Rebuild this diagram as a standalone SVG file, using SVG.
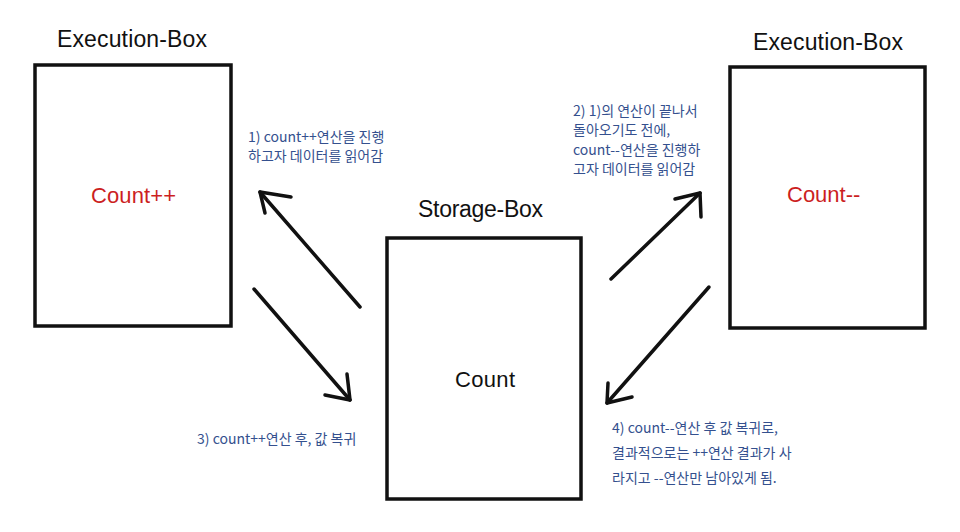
<svg xmlns="http://www.w3.org/2000/svg" width="960" height="532" viewBox="0 0 960 532">
<style>
.box{fill:#fff;stroke:#111;stroke-width:3.5}
.title{font-family:"Liberation Sans","Noto Sans",sans-serif;font-size:23px;fill:#111}
.inner{font-family:"Liberation Sans","Noto Sans",sans-serif;font-size:22px}
.note{font-family:"Noto Sans CJK KR","Noto Sans",sans-serif;font-size:14px;fill:#34508e}
.arr{fill:none;stroke:#111;stroke-width:3.5;stroke-linecap:round;stroke-linejoin:round}
</style>
<rect width="960" height="532" fill="#fff"/>
<g id="exec-left">
<text class="title" x="57" y="47" textLength="150">Execution-Box</text>
<rect class="box" x="35" y="65" width="196" height="261"/>
<text class="inner" x="91" y="203" fill="#cc1f1f" textLength="85">Count++</text>
</g>
<g id="storage">
<text class="title" x="418" y="217" textLength="125">Storage-Box</text>
<rect class="box" x="387" y="238" width="194" height="261"/>
<text class="inner" x="455" y="387" fill="#111" textLength="60">Count</text>
</g>
<g id="exec-right">
<text class="title" x="753" y="50" textLength="150">Execution-Box</text>
<rect class="box" x="730" y="67" width="195" height="261"/>
<text class="inner" x="787" y="202" fill="#cc1f1f" font-size="23">Count--</text>
</g>
<g id="connectors">
<line class="arr" x1="360" y1="307" x2="260" y2="192"/>
<polyline class="arr" points="291,197 260,192 265,213"/>
<line class="arr" x1="254" y1="289" x2="350" y2="400"/>
<polyline class="arr" points="347,374 350,400 325,395"/>
<line class="arr" x1="611" y1="279" x2="700" y2="193"/>
<polyline class="arr" points="675,199 700,193 701,217"/>
<line class="arr" x1="709" y1="287" x2="607" y2="403"/>
<polyline class="arr" points="608,383 607,403 632,397"/>
</g>
<g id="notes">
<text class="note" x="248" y="142">1) count++연산을 진행</text>
<text class="note" x="248" y="161">하고자 데이터를 읽어감</text>
<text class="note" x="573" y="116">2) 1)의 연산이 끝나서</text>
<text class="note" x="573" y="135">돌아오기도 전에,</text>
<text class="note" x="573" y="155">count--연산을 진행하</text>
<text class="note" x="573" y="174">고자 데이터를 읽어감</text>
<text class="note" x="197" y="444">3) count++연산 후, 값 복귀</text>
<text class="note" x="612" y="433">4) count--연산 후 값 복귀로,</text>
<text class="note" x="612" y="458">결과적으로는 ++연산 결과가 사</text>
<text class="note" x="612" y="483">라지고 --연산만 남아있게 됨.</text>
</g>
</svg>
